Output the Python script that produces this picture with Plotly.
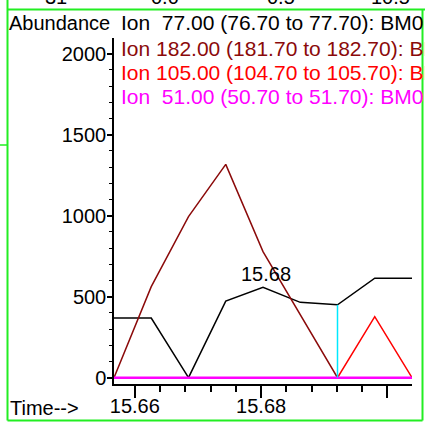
import plotly.graph_objects as go

# ---- data ----
times = [15.6567, 15.6626, 15.6685, 15.6744, 15.6803, 15.6862, 15.6921, 15.6980, 15.7039]
ion77 = [368, 368, 0, 473, 558, 465, 450, 614, 614]
ion182 = [0, 562, 994, 1317, 778, 390, 0, 0, 0]
ion105 = [0, 0, 0, 0, 0, 0, 0, 377, 0]
ion51 = [0, 0, 0, 0, 0, 0, 0, 0, 0]
cursor_index = 6
peak_label = "15.68"
peak_index = 4

legend_texts = [
    "Ion\u00a0\u00a077.00 (76.70 to 77.70): BM0",
    "Ion 182.00 (181.70 to 182.70): BM0",
    "Ion 105.00 (104.70 to 105.70): BM0",
    "Ion\u00a0\u00a051.00 (50.70 to 51.70): BM0",
]
series_colors = ["#000000", "#8b0a0a", "#ff0000", "#ff00ff"]
x_tickvals = [15.66, 15.68, 15.70]
x_ticktext = ["15.66", "15.68", ""]
y_tickvals = [0, 500, 1000, 1500, 2000]
top_clipped = ["31", "0.0", "0.5", "10.5"]

W, H = 425, 423
L, R, T, B = 114, 13, 38, 39
PW, PH = W - L - R, H - T - B


def px(x):
    return (x - L) / PW


def py(y):
    return (H - B - y) / PH


FONT = "Liberation Sans, Arial, sans-serif"

fig = go.Figure()
fig.add_trace(go.Scatter(x=times, y=ion77, mode="lines",
                         line=dict(color=series_colors[0], width=1.5)))
fig.add_trace(go.Scatter(x=times, y=ion182, mode="lines",
                         line=dict(color=series_colors[1], width=1.5)))
fig.add_trace(go.Scatter(x=times, y=ion105, mode="lines",
                         line=dict(color=series_colors[2], width=1.5)))
fig.add_trace(go.Scatter(x=times, y=ion51, mode="lines",
                         line=dict(color=series_colors[3], width=2.5)))
fig.add_trace(go.Scatter(x=[times[cursor_index], times[cursor_index]],
                         y=[0, ion77[cursor_index]], mode="lines",
                         line=dict(color="#00e8ff", width=1.5)))

annotations = []
# peak label
annotations.append(dict(x=times[peak_index], y=ion77[peak_index], xref="x", yref="y",
                        text=peak_label, showarrow=False, xanchor="center",
                        yanchor="bottom", xshift=3, yshift=0,
                        font=dict(family=FONT, size=20, color="black")))
# legend lines
leg_y = [23, 48, 72, 96]
for t, c, yy in zip(legend_texts, series_colors, leg_y):
    annotations.append(dict(x=px(119), y=py(yy), xref="paper", yref="paper",
                            text=t, showarrow=False, xanchor="left", yanchor="middle",
                            font=dict(family=FONT, size=21, color=c)))
annotations.append(dict(x=px(7), y=py(23), xref="paper", yref="paper",
                        text="Abundance", showarrow=False, xanchor="left", yanchor="middle",
                        font=dict(family=FONT, size=20, color="black")))
annotations.append(dict(x=px(8), y=py(408), xref="paper", yref="paper",
                        text="Time-->", showarrow=False, xanchor="left", yanchor="middle",
                        font=dict(family=FONT, size=20, color="black")))
for t, cx in zip(top_clipped, [56, 165, 281, 390]):
    annotations.append(dict(x=px(cx), y=py(-3), xref="paper", yref="paper",
                            text=t, showarrow=False, xanchor="center", yanchor="middle",
                            font=dict(family=FONT, size=20, color="black")))

green = "#22ee22"
shapes = [
    dict(type="line", xref="paper", yref="paper", x0=px(7.5), x1=px(7.5), y0=py(0), y1=py(420.5),
         line=dict(color=green, width=2)),
    dict(type="line", xref="paper", yref="paper", x0=px(7.5), x1=px(425), y0=py(9.5), y1=py(9.5),
         line=dict(color=green, width=2)),
    dict(type="line", xref="paper", yref="paper", x0=px(422.5), x1=px(422.5), y0=py(9.5), y1=py(420.5),
         line=dict(color=green, width=2)),
    dict(type="line", xref="paper", yref="paper", x0=px(7.5), x1=px(422.5), y0=py(420.5), y1=py(420.5),
         line=dict(color=green, width=2)),
    dict(type="line", xref="paper", yref="paper", x0=px(0), x1=px(7.5), y0=py(145), y1=py(145),
         line=dict(color=green, width=1.5)),
]

fig.update_layout(
    width=W, height=H,
    margin=dict(l=L, r=R, t=T, b=B, pad=0, autoexpand=False),
    paper_bgcolor="white", plot_bgcolor="white",
    showlegend=False,
    annotations=annotations,
    shapes=shapes,
    font=dict(family=FONT, size=20, color="black"),
    xaxis=dict(range=[times[0], times[-1]], showline=True, linecolor="black", linewidth=1.5,
               ticks="outside", ticklen=12, tickwidth=1.5, tickcolor="black",
               tickvals=x_tickvals, ticktext=x_ticktext, showgrid=False, zeroline=False,
               automargin=False, ticklabelstandoff=-9,
               tickfont=dict(family=FONT, size=20, color="black"),
               minor=dict(ticks="outside", ticklen=6, tickwidth=1.5, tickcolor="black",
                          dtick=0.004, tick0=15.66, showgrid=False)),
    yaxis=dict(range=[-39, 2097], showline=True, linecolor="black", linewidth=1.5,
               ticks="outside", ticklen=5, tickwidth=1.5, tickcolor="black",
               tickvals=y_tickvals, showgrid=False, zeroline=False,
               automargin=False, ticklabelstandoff=-3,
               tickfont=dict(family=FONT, size=20, color="black"),
               minor=dict(ticks="outside", ticklen=3, tickwidth=1, tickcolor="black",
                          dtick=100, tick0=0, showgrid=False)),
)

fig.write_html("out.html", config={"displayModeBar": False},
               post_script="document.body.style.margin='0px';document.body.style.overflow='hidden';")
